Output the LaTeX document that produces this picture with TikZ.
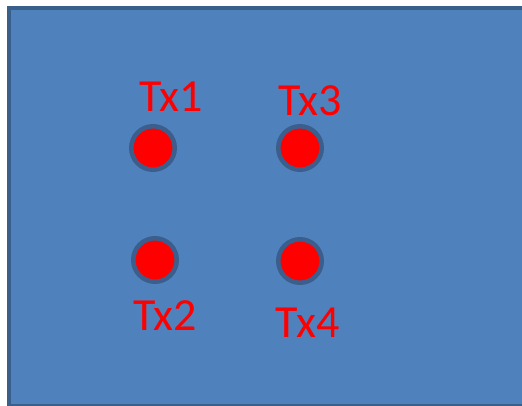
\documentclass[tikz,border=0pt]{standalone}
\usepackage{fontspec}
\setmainfont{Carlito}
\usepackage{xcolor}
\usepackage{tikz}

\definecolor{panelblue}{HTML}{4F81BD}
\definecolor{paneledge}{HTML}{3A5F8B}
\definecolor{dotedge}{HTML}{3B5E8C}

\tikzset{
    txdot/.style = {circle, fill=red, draw=dotedge, line width=4.5pt,
                    inner sep=0pt, minimum size=43.5pt},
    txlabel/.style = {text=red, inner sep=0pt, anchor=base,
                      font=\fontsize{46}{46}\selectfont}
}

\begin{document}
\begin{tikzpicture}[x=1pt, y=-1pt]
    \useasboundingbox (0,0) rectangle (522,406);
    \clip (0,0) rectangle (522,406);

    % Panel
    \draw[fill=panelblue, draw=paneledge, line width=4pt] (9,8) rectangle (545,406);

    % Transmitters
    \node[txdot] (tx1) at (153,148) {};
    \node[txdot] (tx2) at (155,260) {};
    \node[txdot] (tx3) at (300,148) {};
    \node[txdot] (tx4) at (300,261) {};

    % Labels
    \node[txlabel] (lbl1) at (171,111.5) {Tx1};
    \node[txlabel] (lbl2) at (165,330) {Tx2};
    \node[txlabel] (lbl3) at (310,116) {Tx3};
    \node[txlabel] (lbl4) at (307.5,337.5) {Tx4};
\end{tikzpicture}
\end{document}
